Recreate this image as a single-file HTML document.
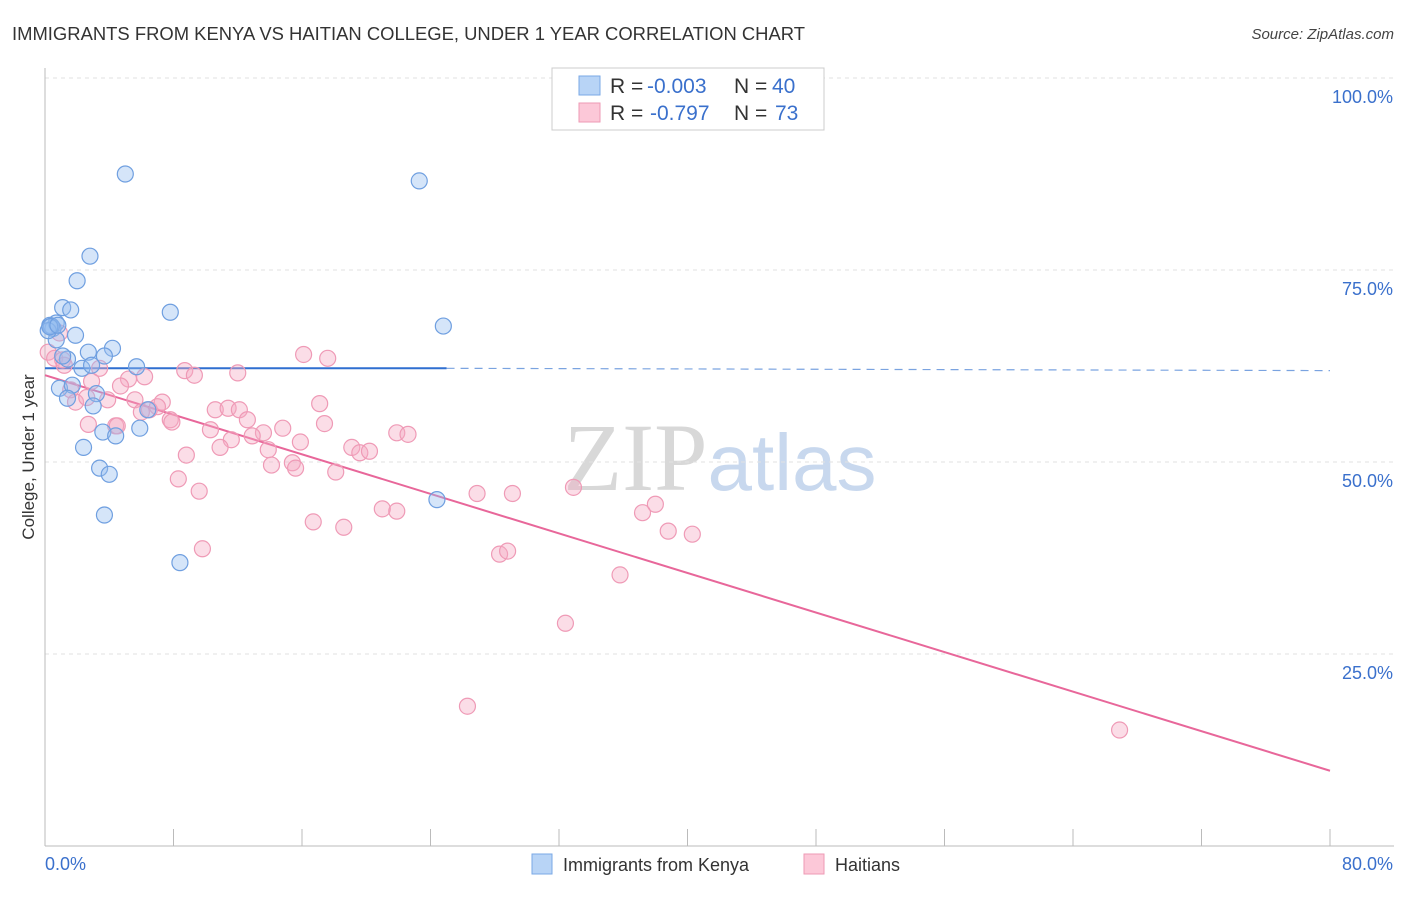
<!DOCTYPE html>
<html><head><meta charset="utf-8"><style>
body{margin:0;background:#fff;font-family:"Liberation Sans",sans-serif;}
</style></head><body>
<svg id="chart" width="1406" height="892" xmlns="http://www.w3.org/2000/svg" font-family="Liberation Sans, sans-serif">
<text x="12" y="40" font-size="18" fill="#333" textLength="793" lengthAdjust="spacingAndGlyphs">IMMIGRANTS FROM KENYA VS HAITIAN COLLEGE, UNDER 1 YEAR CORRELATION CHART</text>
<text x="1394" y="39" font-size="15" fill="#444" font-style="italic" text-anchor="end">Source: ZipAtlas.com</text>
<text x="720" y="490" font-size="96" text-anchor="middle"><tspan fill="#d8d8d8" font-family="Liberation Serif, serif">ZIP</tspan><tspan fill="#c8d8ee" font-size="80">atlas</tspan></text>
<g id="grid"></g><g id="axes"></g><g id="lines"></g><g id="pts"></g>
<text transform="translate(34,457) rotate(-90)" font-size="17" fill="#333" text-anchor="middle">College, Under 1 year</text>
<g>
<rect x="552" y="68" width="272" height="62" fill="#fff" stroke="#ccc"/>
<rect x="579" y="76" width="21" height="19" fill="#b8d4f6" stroke="#7aa8e6"/>
<rect x="579" y="103" width="21" height="19" fill="#fcc8d8" stroke="#ee9ab4"/>
<text x="610" y="93" font-size="21" fill="#333">R = <tspan fill="#3a70cc" x="647">-0.003</tspan><tspan x="734">N = </tspan><tspan fill="#3a70cc" x="772">40</tspan></text>
<text x="610" y="120" font-size="21" fill="#333">R = <tspan fill="#3a70cc" x="650">-0.797</tspan><tspan x="734">N = </tspan><tspan fill="#3a70cc" x="775">73</tspan></text>
</g>
<g>
<rect x="532" y="854" width="20" height="20" fill="#b8d4f6" stroke="#7aa8e6"/>
<text x="563" y="871" font-size="18" fill="#333">Immigrants from Kenya</text>
<rect x="804" y="854" width="20" height="20" fill="#fcc8d8" stroke="#ee9ab4"/>
<text x="835" y="871" font-size="18" fill="#333">Haitians</text>
</g>
</svg>
<script>
const xTicks=[0,8,16,24,32,40,48,56,64,72,80];
const yTicks=[25,50,75,100];
const yTickLabels=["25.0%","50.0%","75.0%","100.0%"];
const kenyaX=[5.0,23.3,2.8,2.0,1.1,1.6,7.8,0.3,0.7,0.5,24.8,1.9,0.7,4.2,2.7,3.7,1.4,5.7,2.3,2.9,0.9,1.7,3.2,1.4,3.0,6.4,5.9,3.6,4.4,2.4,3.4,4.0,3.7,8.4,24.4,0.4,0.2,1.1,0.3,0.8];
const kenyaY=[87.5,86.6,76.8,73.6,70.1,69.8,69.5,67.8,68.1,67.4,67.7,66.5,65.9,64.8,64.3,63.8,63.4,62.4,62.2,62.6,59.6,60.0,58.9,58.3,57.3,56.8,54.4,53.9,53.4,51.9,49.2,48.4,43.1,36.9,45.1,67.7,67.1,63.8,67.6,67.8];
const haitiX=[0.2,0.6,1.1,1.2,3.4,8.7,9.3,12.0,6.2,5.2,2.9,4.7,16.1,17.6,1.6,1.9,2.6,3.9,5.6,7.3,6.5,6.0,7.8,7.0,7.9,10.6,11.4,12.1,12.6,17.1,14.8,13.6,12.9,11.6,10.3,10.9,13.9,15.9,17.4,19.1,19.6,20.2,21.9,22.6,4.4,2.7,8.8,14.1,15.4,15.6,18.1,8.3,9.6,21.0,21.9,16.7,18.6,26.9,29.1,32.9,37.2,38.0,38.8,40.3,28.3,28.8,9.8,35.8,32.4,26.3,66.9,4.5,0.9];
const haitiY=[64.3,63.5,63.3,62.6,62.2,61.9,61.3,61.6,61.1,60.8,60.5,59.9,64.0,63.5,59.4,57.8,58.4,58.1,58.1,57.8,56.8,56.5,55.5,57.2,55.2,56.8,57.0,56.8,55.5,57.6,54.4,53.8,53.4,52.9,54.2,51.9,51.6,52.6,55.0,51.9,51.2,51.4,53.8,53.6,54.7,54.9,50.9,49.6,49.9,49.2,48.7,47.8,46.2,43.9,43.6,42.2,41.5,45.9,45.9,46.7,43.4,44.5,41.0,40.6,38.0,38.4,38.7,35.3,29.0,18.2,15.1,54.7,66.8];
const X=v=>45+v/80*1285, Y=v=>846-v/100*768;
const NS="http://www.w3.org/2000/svg";
function mk(p,t,a){const e=document.createElementNS(NS,t);for(const k in a)e.setAttribute(k,a[k]);document.getElementById(p).appendChild(e);return e;}
yTicks.forEach((t,i)=>{
 const g=mk('grid','line',{x1:45,x2:1394,y1:Y(t),y2:Y(t),stroke:'#e2e2e2','stroke-dasharray':'4,4'});
 
 
 const l=mk('axes','text',{x:1393,y:Y(t)+25,'font-size':18,fill:'#3a70cc','text-anchor':'end'});l.textContent=yTickLabels[i];
 
 
});
const ax=mk('axes','line',{x1:45,x2:45,y1:68,y2:846,stroke:'#bbb'});


const bx=mk('axes','line',{x1:45,x2:1394,y1:846,y2:846,stroke:'#bbb'});


xTicks.forEach(t=>{const k=mk('axes','line',{x1:X(t),x2:X(t),y1:829,y2:846,stroke:'#bbb'});
 
 });
[[0,"0.0%","start",45],[80,"80.0%","end",1393]].forEach(d=>{const l=mk('axes','text',{x:d[3],y:870,'font-size':18,fill:'#3a70cc','text-anchor':d[2]});l.textContent=d[1];
 
 });
haitiX.forEach((v,i)=>{const c=mk('pts','circle',{cx:X(v),cy:Y(haitiY[i]),r:8,fill:'rgba(246,170,195,0.4)',stroke:'#ef9ab6','stroke-width':1.2});
 
 });
kenyaX.forEach((v,i)=>{const c=mk('pts','circle',{cx:X(v),cy:Y(kenyaY[i]),r:8,fill:'rgba(150,190,240,0.4)',stroke:'#6f9fe0','stroke-width':1.2});
 
 });
const b1=mk('lines','line',{x1:X(0),x2:X(25),y1:Y(62.2),y2:Y(62.2),stroke:'#2f6fd0','stroke-width':2});


const b2=mk('lines','line',{x1:X(25),x2:X(80),y1:Y(62.2),y2:Y(61.9),stroke:'#7aa3e0','stroke-width':1.2,'stroke-dasharray':'8,6'});


const p1=mk('lines','line',{x1:X(0),x2:X(80),y1:Y(61.3),y2:Y(9.8),stroke:'#e8679a','stroke-width':2});


</script>
</body></html>
